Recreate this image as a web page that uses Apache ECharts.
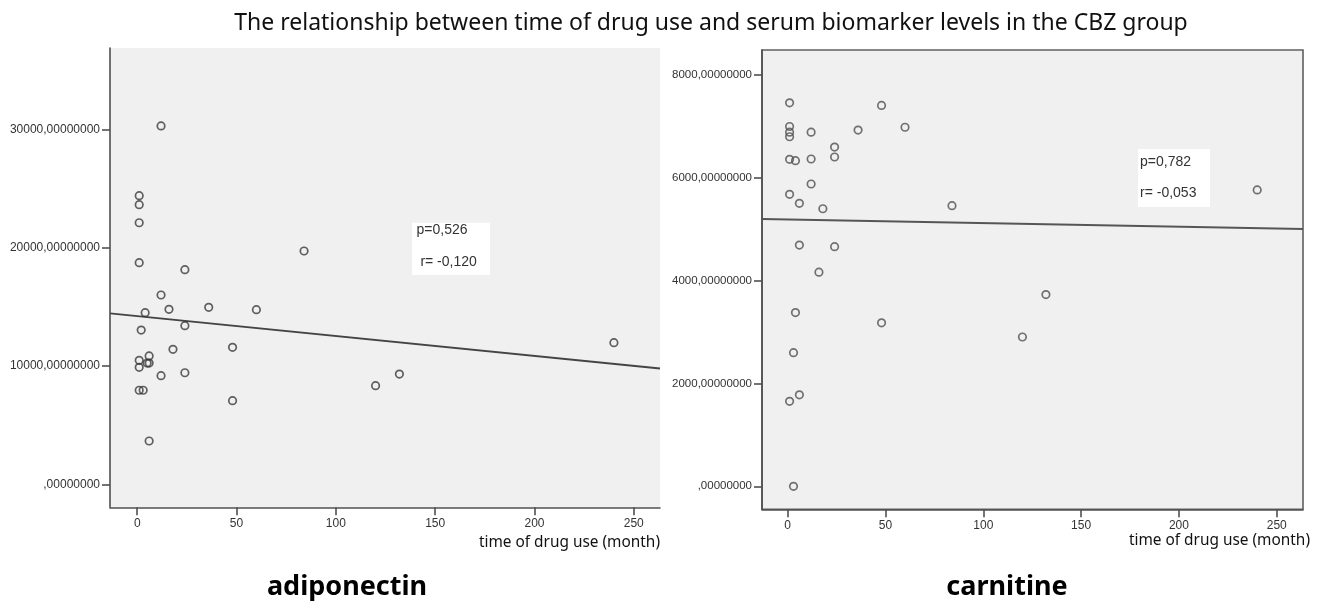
<!DOCTYPE html>
<html>
<head>
<meta charset="utf-8">
<script src="https://cdn.jsdelivr.net/npm/echarts@6/dist/echarts.min.js"></script>
<style>html,body{margin:0;padding:0;background:#fff}#c{width:1320px;height:601px}</style>
</head>
<body>
<div id="c"></div>
<script>
// Adiponectin panel
const adipoMonths = [12,1,1,1,84,1,24,12,4,16,36,60,24,2,48,18,6,1,5,6,1,12,24,1,3,48,6,120,132,240];
const adipoValues = [30290,24400,23640,22110,19720,18730,18140,16000,14510,14790,14960,14760,13410,13040,11580,11410,10850,10480,10250,10250,9890,9180,9430,7950,7950,7070,3660,8340,9320,11970];
const adipoFit = [[-13.7,14440],[263.2,9790]];
const adipoYTicks = [0,10000,20000,30000];

// Carnitine panel
const carnMonths = [1,48,60,36,1,1,1,12,24,24,1,4,12,12,1,6,18,84,6,24,16,4,48,3,6,1,3,240,132,120];
const carnValues = [7460,7410,6985,6930,7000,6890,6800,6890,6600,6406,6362,6335,6368,5881,5681,5506,5400,5460,4694,4662,4165,3380,3180,2600,1780,1654,0,5765,3730,2905];
const carnFit = [[-13.1,5200],[263.4,5006]];
const carnYTicks = [0,2000,4000,6000,8000];

const xTicks = [0,50,100,150,200,250];
const xName = 'time of drug use (month)';
const stats = [['p=0,526',' r= -0,120'],['p=0,782','r= -0,053']];

const pairs = (xs, ys) => xs.map((x,i)=>[x, ys[i]]);
const yFmt = v => (v === 0 ? '' : String(v)) + ',00000000';

const chart = echarts.init(document.getElementById('c'));
const axisCol = '#505050';
const lblStyle = {color:'#333', fontFamily:'Liberation Sans, Arial', fontSize:12};

function xAxis(gi, min, max, gap, pad){
  return {type:'value', gridIndex:gi, min:min, max:max,
    axisLine:{show:true, onZero:false, lineStyle:{color:axisCol, width:1.6}},
    axisTick:{show:true, length:8, customValues:xTicks, lineStyle:{color:axisCol, width:1.6}},
    axisLabel:{customValues:xTicks, margin:10, ...lblStyle},
    splitLine:{show:false},
    name:xName, nameLocation:'end', nameGap:gap,
    nameTextStyle:{align:'right', verticalAlign:'top', padding:[pad,0,0,0], fontFamily:'Noto Sans', fontSize:15.4, color:'#111'}
  };
}
function yAxis(gi, min, max, ticks, fs){
  return {type:'value', gridIndex:gi, min:min, max:max,
    axisLine:{show:true, onZero:false, lineStyle:{color:axisCol, width:1.6}},
    axisTick:{show:true, length:8, customValues:ticks, lineStyle:{color:axisCol, width:1.6}},
    axisLabel:{customValues:ticks, margin:10, formatter:yFmt, ...lblStyle, fontSize:fs},
    splitLine:{show:false}
  };
}
const scatterStyle = {color:'rgba(0,0,0,0)', borderColor:'#3a3a3a', borderWidth:1.7};

chart.setOption({
  animation:false,
  backgroundColor:'#fff',
  title:[
    {text:'The relationship between time of drug use and serum biomarker levels in the CBZ group', left:706, textAlign:'center', top:7,
      textStyle:{fontFamily:'Noto Sans', fontSize:23, fontWeight:'normal', color:'#111'}},
    {text:'adiponectin', left:342, textAlign:'center', top:569,
      textStyle:{fontFamily:'Noto Sans', fontSize:27, fontWeight:'bold', color:'#000'}},
    {text:'carnitine', left:1002, textAlign:'center', top:569,
      textStyle:{fontFamily:'Noto Sans', fontSize:27, fontWeight:'bold', color:'#000'}}
  ],
  grid:[
    {left:110, top:48, width:550, height:459.3, show:true, backgroundColor:'#f0f0f0', borderWidth:0, containLabel:false},
    {left:762, top:50, width:541, height:459.3, show:true, backgroundColor:'#f0f0f0', borderColor:'#606060', borderWidth:1.6, containLabel:false}
  ],
  xAxis:[ xAxis(0, -13.7, 263.2, 0, 28), xAxis(1, -13.1, 263.4, 7, 24) ],
  yAxis:[ yAxis(0, -1944, 36880, adipoYTicks, 12), yAxis(1, -447, 8488, carnYTicks, 11.5) ],
  series:[
    {type:'scatter', xAxisIndex:0, yAxisIndex:0, data:pairs(adipoMonths, adipoValues), symbol:'circle', symbolSize:7.5, itemStyle:scatterStyle, z:3},
    {type:'line', xAxisIndex:0, yAxisIndex:0, data:adipoFit, symbol:'none', lineStyle:{color:'#444', width:1.8}, z:2},
    {type:'scatter', xAxisIndex:1, yAxisIndex:1, data:pairs(carnMonths, carnValues), symbol:'circle', symbolSize:7.5, itemStyle:{...scatterStyle, borderColor:'#505050'}, z:3},
    {type:'line', xAxisIndex:1, yAxisIndex:1, data:carnFit, symbol:'none', lineStyle:{color:'#555', width:1.8}, z:2}
  ],
  graphic:[
    {type:'rect', shape:{x:412, y:222.7, width:78, height:52.3}, style:{fill:'#fff'}, z:10},
    {type:'text', x:416.5, y:230, style:{text:stats[0][0], fontFamily:'Liberation Sans, Arial', fontSize:14, fill:'#333', verticalAlign:'middle'}, z:11},
    {type:'text', x:416.5, y:261.7, style:{text:stats[0][1], fontFamily:'Liberation Sans, Arial', fontSize:14, fill:'#333', verticalAlign:'middle'}, z:11},
    {type:'rect', shape:{x:1138, y:149, width:72, height:58}, style:{fill:'#fff'}, z:10},
    {type:'text', x:1140, y:161.7, style:{text:stats[1][0], fontFamily:'Liberation Sans, Arial', fontSize:14, fill:'#333', verticalAlign:'middle'}, z:11},
    {type:'text', x:1140, y:193.3, style:{text:stats[1][1], fontFamily:'Liberation Sans, Arial', fontSize:14, fill:'#333', verticalAlign:'middle'}, z:11}
  ]
});
</script>
</body>
</html>
